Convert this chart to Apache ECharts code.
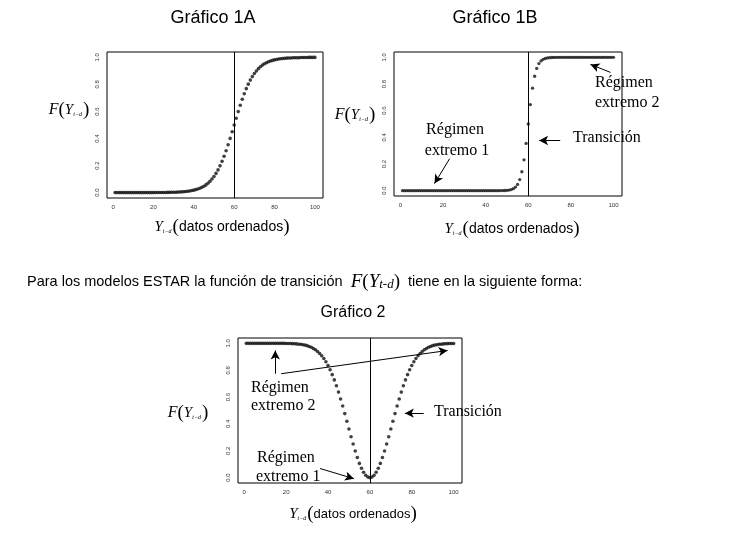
<!DOCTYPE html>
<html>
<head>
<meta charset="utf-8">
<script src="https://cdn.jsdelivr.net/npm/echarts@6/dist/echarts.min.js"></script>
<style>
  html, body { margin: 0; padding: 0; background: #fff; }
  #chart { width: 729px; height: 535px; }
</style>
</head>
<body>
<div id="chart"></div>
<script>
// x = 1..100 (datos ordenados)
var lstarA = [
  0, 0, 0, 0, 0, 0, 0, 0, 0, 0,
  0, 0, 0, 0, 0, 0, 0, 0, 0, 0,
  0.0004, 0.0005, 0.0006, 0.0007, 0.0009, 0.0011, 0.0014, 0.0017, 0.002, 0.0025,
  0.003, 0.0037, 0.0045, 0.0055, 0.0067, 0.0082, 0.01, 0.012, 0.015, 0.018,
  0.022, 0.027, 0.032, 0.039, 0.047, 0.057, 0.069, 0.083, 0.1, 0.119,
  0.142, 0.168, 0.198, 0.231, 0.269, 0.31, 0.354, 0.401, 0.45, 0.5,
  0.55, 0.599, 0.646, 0.69, 0.731, 0.769, 0.802, 0.832, 0.858, 0.881,
  0.9, 0.917, 0.931, 0.943, 0.953, 0.961, 0.968, 0.973, 0.978, 0.982,
  0.985, 0.988, 0.99, 0.992, 0.993, 0.995, 0.996, 0.996, 0.997, 0.998,
  0.998, 0.998, 0.999, 0.999, 0.999, 0.999, 1, 1, 1, 1
];
var lstarB = [
  0, 0, 0, 0, 0, 0, 0, 0, 0, 0,
  0, 0, 0, 0, 0, 0, 0, 0, 0, 0,
  0, 0, 0, 0, 0, 0, 0, 0, 0, 0,
  0, 0, 0, 0, 0, 0, 0, 0, 0, 0,
  0, 0, 0, 0, 0, 0, 0.0004, 0.0007, 0.0014, 0.0025,
  0.0045, 0.008, 0.015, 0.027, 0.047, 0.083, 0.142, 0.231, 0.354, 0.5,
  0.646, 0.769, 0.858, 0.917, 0.953, 0.973, 0.985, 0.992, 0.9955, 0.9975,
  0.9986, 0.9993, 1, 1, 1, 1, 1, 1, 1, 1,
  1, 1, 1, 1, 1, 1, 1, 1, 1, 1,
  1, 1, 1, 1, 1, 1, 1, 1, 1, 1
];
var estar = [
  1, 1, 1, 1, 1, 1, 1, 1, 1, 1,
  1, 1, 1, 1, 1, 1, 1, 1, 1, 0.9993,
  0.999, 0.9985, 0.998, 0.997, 0.996, 0.994, 0.993, 0.99, 0.987, 0.983,
  0.977, 0.971, 0.962, 0.952, 0.94, 0.925, 0.908, 0.887, 0.863, 0.835,
  0.803, 0.767, 0.728, 0.684, 0.637, 0.586, 0.533, 0.477, 0.42, 0.362,
  0.305, 0.25, 0.198, 0.15, 0.106, 0.07, 0.04, 0.018, 0.0045, 0,
  0.0045, 0.018, 0.04, 0.07, 0.106, 0.15, 0.198, 0.25, 0.305, 0.362,
  0.42, 0.477, 0.533, 0.586, 0.637, 0.684, 0.728, 0.767, 0.803, 0.835,
  0.863, 0.887, 0.908, 0.925, 0.94, 0.952, 0.962, 0.971, 0.977, 0.983,
  0.987, 0.99, 0.993, 0.994, 0.996, 0.997, 0.998, 0.9985, 0.999, 0.9993
];
var xTicks = [0, 20, 40, 60, 80, 100];
var yTicks = [0, 0.2, 0.4, 0.6, 0.8, 1.0];
var threshold = 60;

var SERIF = '"Liberation Serif", "DejaVu Serif", serif';
var SANS = '"Liberation Sans", Arial, sans-serif';

function pts(arr) {
  return arr.map(function (v, i) { return [i + 1, v]; });
}

function xAx(g) {
  return {
    gridIndex: g, type: 'value', min: -3, max: 104,
    axisLine: { show: false }, axisTick: { show: false }, splitLine: { show: false },
    axisLabel: { customValues: xTicks, fontSize: 6, color: '#333', margin: 6, fontFamily: SANS }
  };
}
function yAx(g) {
  return {
    gridIndex: g, type: 'value', min: -0.04, max: 1.04,
    axisLine: { show: false }, axisTick: { show: false }, splitLine: { show: false },
    axisLabel: {
      customValues: yTicks, fontSize: 6, color: '#333', margin: 7, rotate: 90, fontFamily: SANS,
      formatter: function (v) { return v.toFixed(1); }
    }
  };
}

var vline = {
  silent: true, symbol: ['none', 'none'], label: { show: false },
  lineStyle: { color: '#000', width: 1, type: 'solid' },
  data: [{ xAxis: threshold }]
};

function arrow(x1, y1, x2, y2) {
  return [{ coord: [x1, y1] }, { coord: [x2, y2] }];
}
function arrows(list) {
  return {
    silent: true, symbol: ['none', 'arrow'], symbolSize: [7, 9], label: { show: false },
    lineStyle: { color: '#000', width: 1, type: 'solid' },
    data: list
  };
}

var fRich = {
  f: { fontFamily: SERIF, fontStyle: 'italic', fontSize: 16, color: '#000' },
  p: { fontFamily: SERIF, fontSize: 19, color: '#000' },
  y: { fontFamily: SERIF, fontStyle: 'italic', fontSize: 15, color: '#000' },
  s: { fontFamily: SERIF, fontStyle: 'italic', fontSize: 6, color: '#000', padding: [9, 1, 0, 0] },
  t: { fontFamily: SANS, fontSize: 14, color: '#000' }
};

function fLabel(x, y) {
  return {
    type: 'text', x: x, y: y,
    style: { text: '{f|F}{p|(}{y|Y}{s|t−d}{p|)}', rich: fRich, align: 'center', verticalAlign: 'middle' }
  };
}
function xLabel(x, y, size) {
  var r = JSON.parse(JSON.stringify(fRich));
  r.t.fontSize = size;
  return {
    type: 'text', x: x, y: y,
    style: { text: '{y|Y}{s|t−d}{p|(}{t|datos ordenados}{p|)}', rich: r, align: 'center', verticalAlign: 'middle' }
  };
}
function note(txt, x, y, align) {
  return {
    type: 'text', x: x, y: y,
    style: { text: txt, font: '16px ' + SERIF, fill: '#000', align: align || 'left', verticalAlign: 'middle' }
  };
}
function title(txt, x, y, size) {
  return {
    type: 'text', x: x, y: y,
    style: { text: txt, font: size + 'px ' + SANS, fill: '#000', align: 'center', verticalAlign: 'middle' }
  };
}

var myChart = echarts.init(document.getElementById('chart'));
var option = {
  backgroundColor: '#fff',
  animation: false,
  grid: [
    { left: 107, top: 52, width: 216, height: 146, show: true, borderColor: '#000', borderWidth: 1 },
    { left: 394, top: 52, width: 228, height: 144, show: true, borderColor: '#000', borderWidth: 1 },
    { left: 238, top: 338, width: 224, height: 145, show: true, borderColor: '#000', borderWidth: 1 }
  ],
  xAxis: [xAx(0), xAx(1), xAx(2)],
  yAxis: [yAx(0), yAx(1), yAx(2)],
  series: [
    {
      type: 'scatter', xAxisIndex: 0, yAxisIndex: 0, data: pts(lstarA),
      symbol: 'circle', symbolSize: 3.6, itemStyle: { color: '#111' },
      markLine: vline
    },
    {
      type: 'scatter', xAxisIndex: 1, yAxisIndex: 1, data: pts(lstarB),
      symbol: 'circle', symbolSize: 3.3, itemStyle: { color: '#111' },
      markLine: {
        silent: true, label: { show: false }, symbol: ['none', 'none'],
        lineStyle: { color: '#000', width: 1, type: 'solid' },
        data: [{ xAxis: threshold }]
      }
    },
    {
      type: 'line', xAxisIndex: 1, yAxisIndex: 1, data: [], silent: true,
      markLine: arrows([
        arrow(23.1, 0.24, 16.0, 0.053),
        arrow(98.6, 0.887, 89.2, 0.947),
        arrow(75, 0.376, 65.1, 0.376)
      ])
    },
    {
      type: 'scatter', xAxisIndex: 2, yAxisIndex: 2, data: pts(estar),
      symbol: 'circle', symbolSize: 3.6, itemStyle: { color: '#111' },
      markLine: vline
    },
    {
      type: 'line', xAxisIndex: 2, yAxisIndex: 2, data: [], silent: true,
      markLine: arrows([
        arrow(14.8, 0.774, 14.8, 0.947),
        arrow(17.6, 0.774, 97.1, 0.947),
        arrow(85.7, 0.48, 76.7, 0.48),
        arrow(36.2, 0.068, 52.4, -0.008)
      ])
    }
  ],
  graphic: [
    title('Gráfico 1A', 213, 18, 18),
    title('Gráfico 1B', 495, 18, 18),
    title('Gráfico 2', 353, 313, 16),
    fLabel(69, 110),
    fLabel(355, 115),
    fLabel(188, 413),
    xLabel(222, 227, 14),
    xLabel(512, 229, 14),
    xLabel(353, 514, 13),
    note('Régimen', 455, 130, 'center'),
    note('extremo 1', 457, 151, 'center'),
    note('Régimen', 595, 83),
    note('extremo 2', 595, 103),
    note('Transición', 573, 138),
    note('Régimen', 251, 388),
    note('extremo 2', 251, 406),
    note('Transición', 434, 412),
    note('Régimen', 257, 458),
    note('extremo 1', 256, 477),
    {
      type: 'text', x: 27, y: 282,
      style: {
        text: '{t|Para los modelos ESTAR la función de transición  }{f|F}{p|(}{y|Y}{q|t-d}{p|)}{t|  tiene en la siguiente forma:}',
        verticalAlign: 'middle',
        rich: {
          t: { fontFamily: SANS, fontSize: 14.5, color: '#000' },
          f: { fontFamily: SERIF, fontStyle: 'italic', fontSize: 19, color: '#000' },
          p: { fontFamily: SERIF, fontSize: 19, color: '#000' },
          y: { fontFamily: SERIF, fontStyle: 'italic', fontSize: 19, color: '#000' },
          q: { fontFamily: SERIF, fontStyle: 'italic', fontSize: 13, color: '#000', padding: [6, 0, 0, 0] }
        }
      }
    }
  ]
};
myChart.setOption(option);
</script>
</body>
</html>
